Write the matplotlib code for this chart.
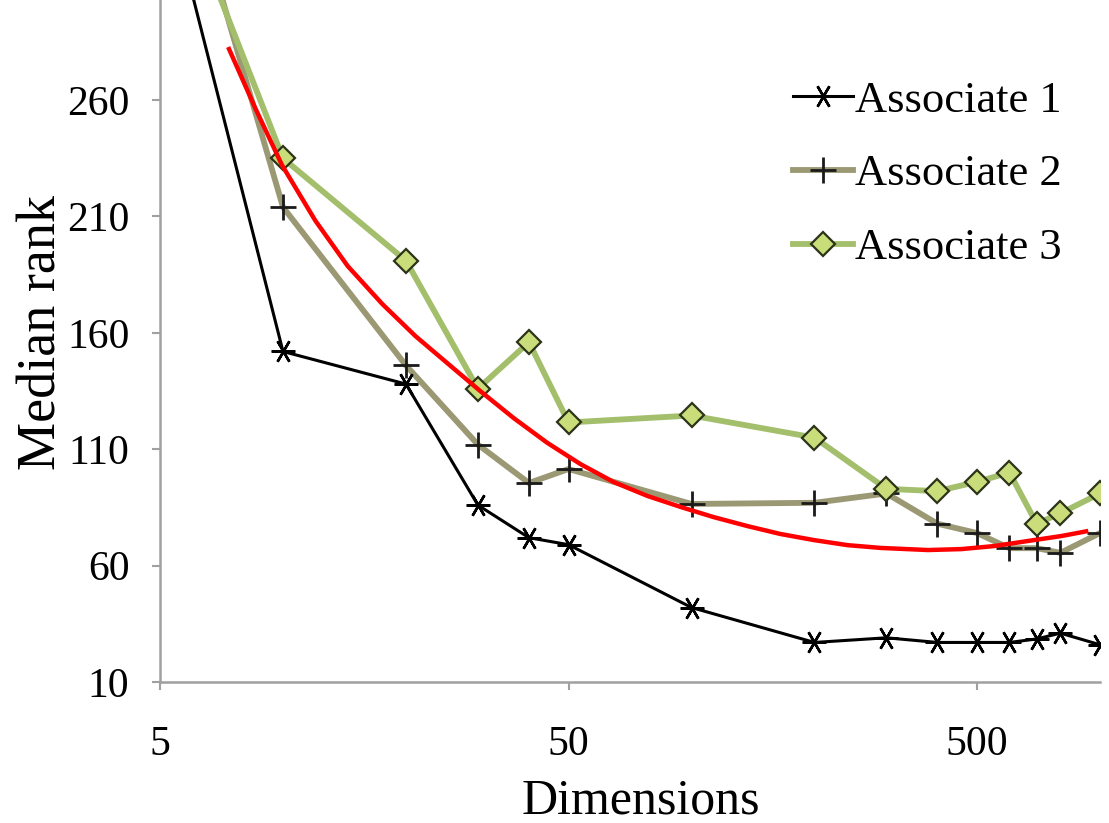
import matplotlib
matplotlib.use('Agg')
import matplotlib.pyplot as plt
from matplotlib.ticker import FixedLocator, NullLocator

plt.rcParams['font.family'] = ['Liberation Serif', 'DejaVu Serif']

# データ (読み取り値)
dims = [5, 10, 20, 30, 40, 50, 100, 200, 300, 400, 500, 600, 700, 800, 1000]
assoc1 = [360, 152, 138, 86, 72, 69, 42, 27, 29, 27, 27, 27, 28.5, 31, 26]
assoc2 = [395, 214, 146, 112, 95.5, 101.5, 86.5, 87, 91, 78, 74, 67.5, 67.5, 65.5, 74]
assoc3 = [370, 235, 191, 136, 156, 121.5, 124.5, 115, 93, 92, 96, 100, 78, 82.5, 91]

# 赤い近似曲線 (画像から読み取った点)
trend_x = [7.34, 8.55, 9.94, 12.0, 14.4, 17.5, 21.1, 25.4, 30.4, 36.7, 44.4,
           53.5, 64.5, 78.1, 94.1, 113, 137, 165, 199, 241, 291, 379, 457,
           550, 667, 803, 936]
trend_y = [282.8, 256.6, 232.1, 208.2, 188.7, 172.4, 158.6, 146.6, 135.0,
           123.4, 112.7, 103.6, 95.9, 89.9, 85.2, 80.9, 77.0, 73.6, 71.0,
           68.8, 67.6, 66.7, 67.1, 68.4, 70.6, 72.7, 74.9]

xticks = [5, 50, 500]
yticks = [10, 60, 110, 160, 210, 260]

fig = plt.figure(figsize=(11.09, 8.23), dpi=100)
ax = fig.add_axes([0.1443, 0.1713, 0.8476, 0.8287])

ax.plot(dims, assoc2, color='#9b9874', lw=4.2, marker='+', ms=19, mew=2,
        mec='#1a1a1a', label='Associate 2', zorder=3)
ax.plot(dims, assoc3, color='#a4bf6c', lw=4.2, marker='D', ms=12, mew=1.6,
        mfc='#c9dd7a', mec='#2b3318', label='Associate 3', zorder=4)
ax.plot(dims, assoc1, color='black', lw=2.2, marker=(6, 2, 90), ms=17, mew=1.8,
        label='Associate 1', zorder=5)
ax.plot(trend_x, trend_y, color='#ff0000', lw=3.2, zorder=6,
        solid_capstyle='butt', solid_joinstyle='round')

ax.set_xscale('log')
ax.set_xlim(5, 1000)
ax.set_ylim(10, 303)

ax.xaxis.set_major_locator(FixedLocator(xticks))
ax.xaxis.set_minor_locator(NullLocator())
ax.set_xticklabels([str(t) for t in xticks])
ax.set_yticks(yticks)

for s in ['top', 'right']:
    ax.spines[s].set_visible(False)
for s in ['left', 'bottom']:
    ax.spines[s].set_color('#a0a0a0')
    ax.spines[s].set_linewidth(1.8)

ax.tick_params(axis='both', which='major', length=6, width=1.5, color='#a0a0a0',
               labelsize=30, labelcolor='black')
ax.tick_params(axis='x', pad=25)
ax.tick_params(axis='y', pad=16)

ax.set_xlabel('Dimensions', fontsize=36)
ax.set_ylabel('Median rank', fontsize=39)
ax.xaxis.set_label_coords(0.512, -0.141)
ax.yaxis.set_label_coords(-0.098, 0.512)

# 凡例の順番を 1, 2, 3 に並べる
h, l = ax.get_legend_handles_labels()
order = [2, 0, 1]
ax.legend([h[i] for i in order], [l[i] for i in order], loc='upper left',
          bbox_to_anchor=(0.673, 0.882), frameon=False, fontsize=32,
          handlelength=1.35, handletextpad=0.05, labelspacing=0.76,
          borderaxespad=0, borderpad=0)

fig.savefig('out.png', dpi=100)
